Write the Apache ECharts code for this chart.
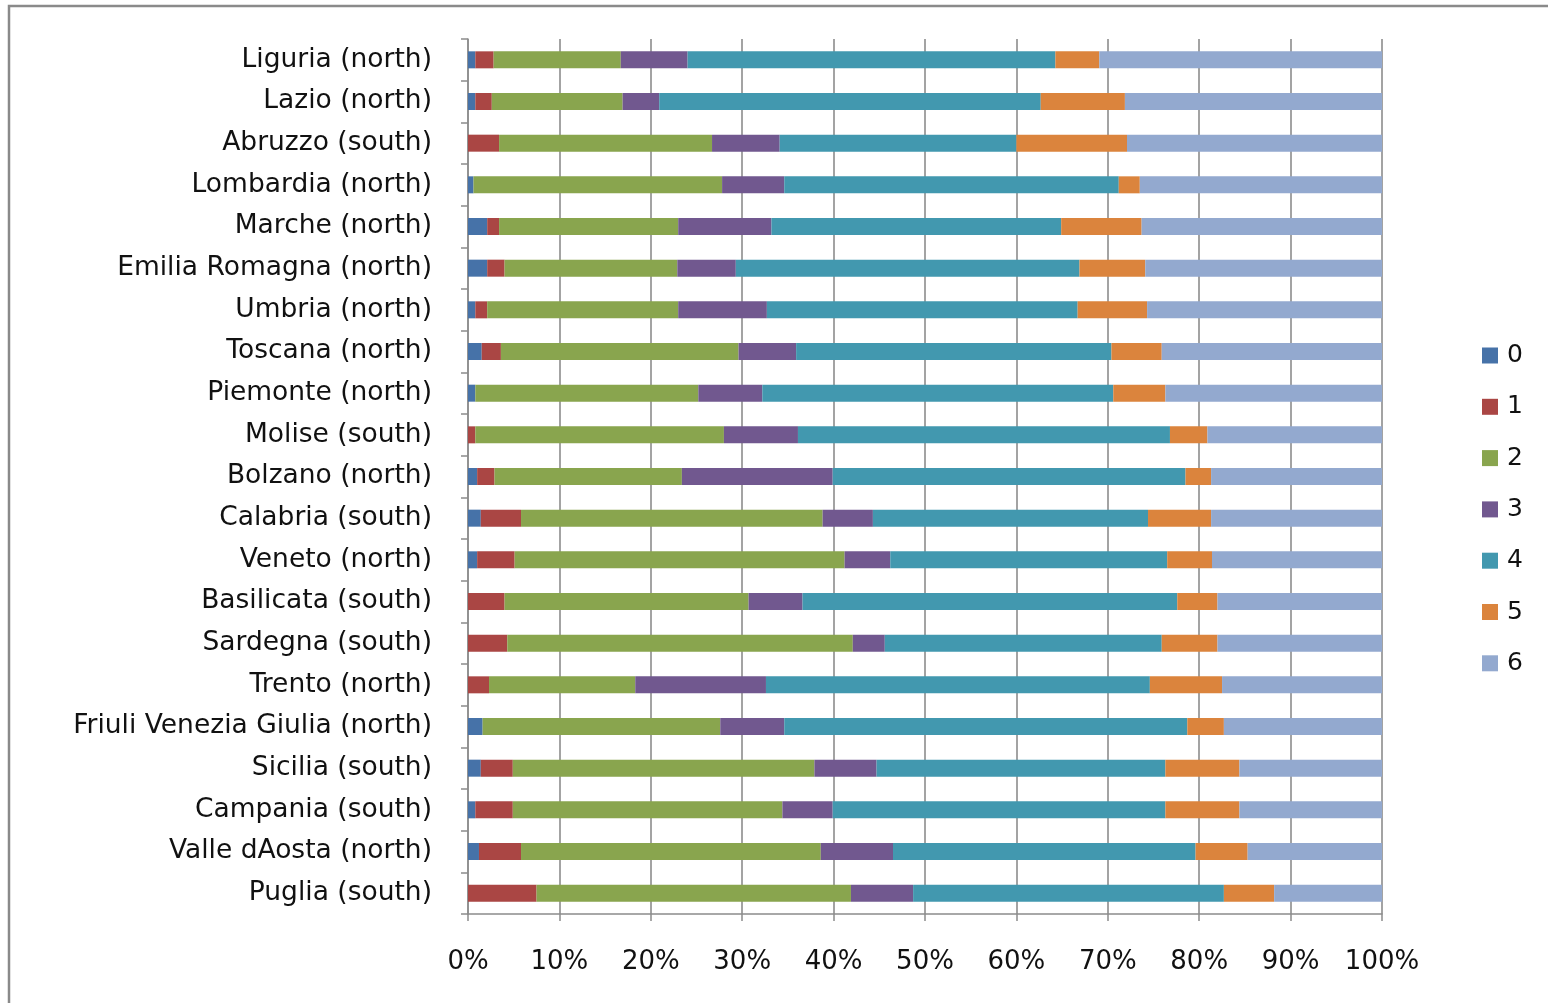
<!DOCTYPE html>
<html>
<head>
<meta charset="utf-8">
<script src="https://cdn.jsdelivr.net/npm/echarts@6/dist/echarts.min.js"></script>
<style>
html,body{margin:0;padding:0;background:#fff;}
#chart{width:1548px;height:1003px;}
</style>
</head>
<body>
<div id="chart"></div>
<script>
// Categories, top to bottom
var categories = ["Liguria (north)","Lazio (north)","Abruzzo (south)","Lombardia (north)","Marche (north)","Emilia Romagna (north)","Umbria (north)","Toscana (north)","Piemonte (north)","Molise (south)","Bolzano (north)","Calabria (south)","Veneto (north)","Basilicata (south)","Sardegna (south)","Trento (north)","Friuli Venezia Giulia (north)","Sicilia (south)","Campania (south)","Valle dAosta (north)","Puglia (south)"];
var seriesNames = ["0","1","2","3","4","5","6"];
var s0 = [0.8,0.8,0,0.6,2.1,2.1,0.8,1.5,0.8,0,1.0,1.4,1.0,0,0,0,1.6,1.4,0.8,1.2,0];
var s1 = [2.0,1.8,3.4,0,1.3,1.9,1.3,2.1,0,0.8,1.9,4.4,4.1,4.0,4.3,2.3,0,3.5,4.1,4.6,7.5];
var s2 = [13.9,14.3,23.3,27.2,19.6,18.9,20.9,26.0,24.4,27.2,20.5,33.0,36.1,26.7,37.8,16.0,26.0,33.0,29.5,32.8,34.4];
var s3 = [7.3,4.0,7.4,6.8,10.2,6.4,9.7,6.3,7.0,8.1,16.5,5.5,5.0,5.9,3.5,14.3,7.0,6.8,5.5,7.9,6.8];
var s4 = [40.2,41.7,25.9,36.6,31.7,37.6,34.0,34.5,38.4,40.7,38.6,30.1,30.3,41.0,30.3,42.0,44.1,31.6,36.4,33.1,34.0];
var s5 = [4.8,9.2,12.1,2.3,8.8,7.2,7.6,5.5,5.7,4.1,2.8,6.9,4.9,4.4,6.1,7.9,4.0,8.1,8.1,5.7,5.5];
var s6 = [30.9,28.1,27.9,26.5,26.3,25.9,25.7,24.1,23.7,19.1,18.7,18.7,18.6,18.0,18.0,17.5,17.3,15.6,15.6,14.7,11.8];
var xTicks = [0,10,20,30,40,50,60,70,80,90,100];

var colors = ["#4672a8","#aa4644","#89a54e","#71588f","#4298af","#db843d","#93a9cf"];
var raw = [s0,s1,s2,s3,s4,s5,s6];
// 100% stacked: normalize each category to its total
var totals = categories.map(function(_, i){
  var t = 0; raw.forEach(function(s){ t += s[i]; }); return t;
});
var series = raw.map(function(s, k){
  return {
    name: seriesNames[k],
    type: 'bar',
    stack: 'total',
    barWidth: 17,
    itemStyle: {color: colors[k]},
    data: s.map(function(v, i){ return v / totals[i] * 100; })
  };
});

var FONT = 'DejaVu Sans';
var chart = echarts.init(document.getElementById('chart'), null, {renderer:'canvas'});
chart.setOption({
  animation: false,
  backgroundColor: '#fff',
  textStyle: {fontFamily: FONT},
  graphic: [{
    type: 'rect',
    shape: {x: 9, y: 6, width: 1700, height: 1200},
    style: {fill: 'none', stroke: '#8a8a8a', lineWidth: 2.5},
    silent: true
  }],
  grid: {left: 468, right: 166, top: 39, bottom: 89, containLabel: false},
  legend: {
    orient: 'vertical',
    left: 1477,
    top: 338,
    itemWidth: 16,
    itemHeight: 16,
    itemGap: 26.3,
    icon: 'rect',
    data: seriesNames,
    textStyle: {fontFamily: FONT, fontSize: 25, color: '#111', padding: [0,0,0,4]}
  },
  xAxis: {
    type: 'value',
    min: 0,
    max: 100,
    interval: 10,
    axisLine: {show: true, lineStyle: {color: '#8c8c8c', width: 1.5}},
    axisTick: {show: true, inside: false, length: 7, lineStyle: {color: '#8c8c8c', width: 1.5}},
    splitLine: {show: true, lineStyle: {color: '#a3a3a3', width: 2}},
    axisLabel: {
      margin: 35,
      fontFamily: FONT,
      fontSize: 26,
      color: '#111',
      formatter: function(v){ return xTicks.indexOf(v) >= 0 ? v + '%' : ''; }
    }
  },
  yAxis: {
    type: 'category',
    inverse: true,
    data: categories,
    axisLine: {show: true, lineStyle: {color: '#8c8c8c', width: 1.5}},
    axisTick: {show: true, inside: false, length: 7, lineStyle: {color: '#8c8c8c', width: 1.5}},
    splitLine: {show: false},
    axisLabel: {
      margin: 36,
      fontFamily: FONT,
      fontSize: 26.5,
      color: '#111'
    }
  },
  series: series
});
</script>
</body>
</html>
